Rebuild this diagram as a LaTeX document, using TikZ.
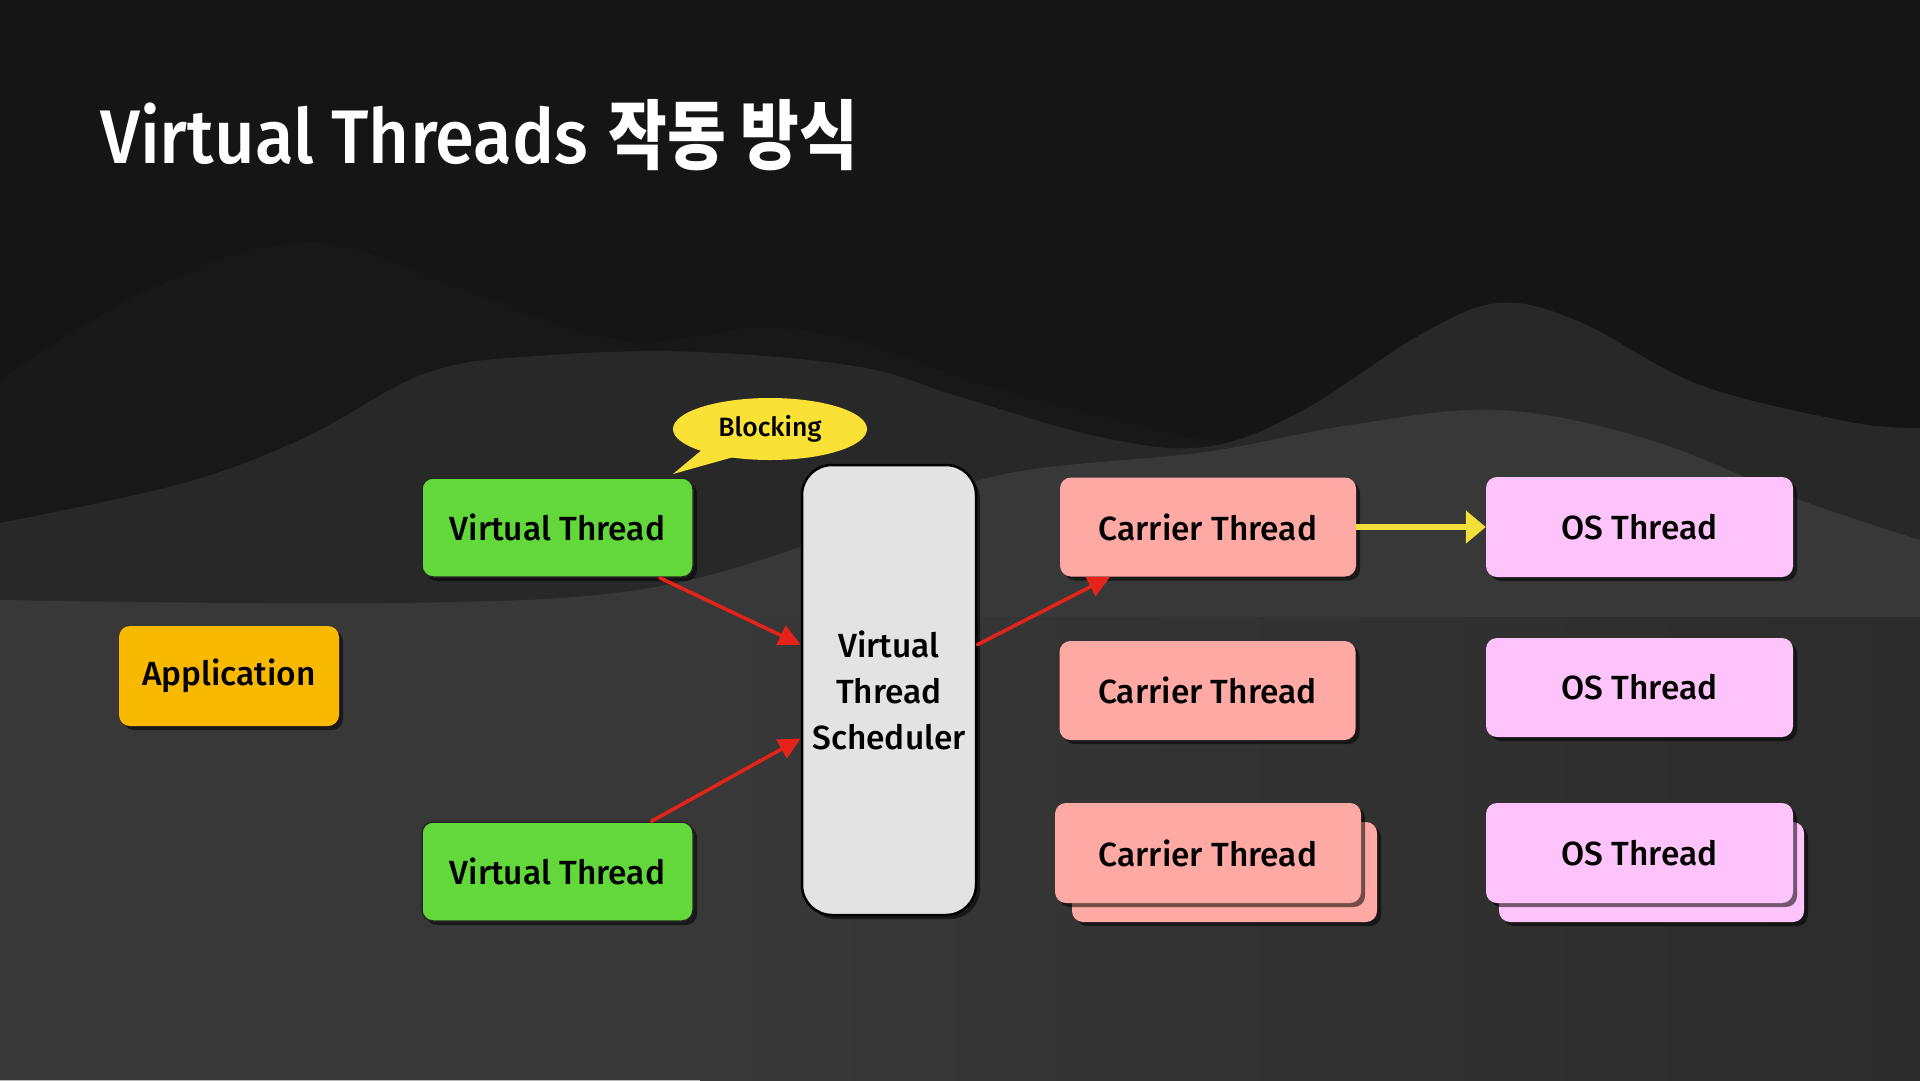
\documentclass[tikz,border=0pt]{standalone}
\usepackage{fontspec}
\setmainfont{Fira Sans}[UprightFont=* Medium]
\newfontfamily\titlefont{Fira Sans}[UprightFont=* Medium, FakeStretch=0.93]
\newfontfamily\krfont{Noto Sans CJK KR}[FakeStretch=0.84]
\usetikzlibrary{arrows.meta,shadows,calc,shapes.geometric}
\definecolor{bgA}{HTML}{151515}
\definecolor{bgB}{HTML}{181818}
\definecolor{bgC}{HTML}{282828}
\definecolor{bgD}{HTML}{383838}
\definecolor{bgE}{HTML}{2C2C2C}
\definecolor{vtgreen}{HTML}{62D83A}
\definecolor{appyel}{HTML}{F9B900}
\definecolor{schgray}{HTML}{E3E3E3}
\definecolor{carrier}{HTML}{FFA9A5}
\definecolor{osth}{HTML}{FFC3FB}
\definecolor{blocky}{HTML}{F9E135}
\definecolor{redarr}{HTML}{E5231B}
\definecolor{yelarr}{HTML}{F3DF3A}
\tikzset{
  card/.style={rounded corners=11pt, inner sep=0pt, text=black,
    font=\fontsize{33.5}{40}\selectfont,
    drop shadow={shadow xshift=4pt, shadow yshift=-4pt, opacity=0.55, fill=black}},
  vtbox/.style={card, fill=vtgreen, draw=black!85, line width=1.5pt},
  appbox/.style={card, fill=appyel},
  schbox/.style={card, fill=schgray, draw=black, line width=2.5pt, rounded corners=30pt,
    align=center, font=\fontsize{33.5}{46}\selectfont},
  ctbox/.style={card, fill=carrier},
  osbox/.style={card, fill=osth},
  redarrow/.style={draw=redarr, line width=3.5pt, line cap=round,
    -{Triangle[length=22pt,width=21pt]}},
  yelarrow/.style={draw=yelarr, line width=6pt,
    -{Triangle[length=20pt,width=32pt]}},
}
\begin{document}
\begin{tikzpicture}[x=1pt,y=-1pt]
\useasboundingbox (0,0) rectangle (1920,1080);
% background
\fill[bgA] (0,0) rectangle (1920,1080);
\fill[bgB] plot[smooth, tension=0.7] coordinates {(0,380) (150,290) (306,243) (450,285) (620,340) (800,330) (1000,390) (1200,440)} -- (1920,460) -- (1920,1080) -- (0,1080) -- cycle;
\fill[bgC] plot[smooth, tension=0.6] coordinates {(0,523) (184,483) (306,437) (429,372) (551,355) (700,352) (860,367) (960,397) (1100,437) (1205,447) (1300,412) (1420,335) (1499,303) (1580,322) (1700,385) (1850,422) (1920,428)} -- (1920,1080) -- (0,1080) -- cycle;
\fill[bgD] plot[smooth, tension=0.6] coordinates {(0,600) (400,603) (650,588) (850,530) (1000,475) (1205,452) (1350,425) (1499,410) (1650,440) (1800,500) (1920,540)} -- (1920,1080) -- (0,1080) -- cycle;
\shade[left color=bgD, right color=bgE] (700,617) -- (1920,617) -- (1920,1080) -- (700,1080) -- cycle;
% title
\node[anchor=base west, text=white, inner sep=0pt, font=\fontsize{76}{90}\selectfont] (title) at (100,163) {\titlefont Virtual Threads\hspace{20pt}{\krfont\bfseries 작동 방식}};
% nodes
\node[appbox, minimum width=220pt, minimum height=100pt] (app) at (229,676) {Application};
\node[vtbox, minimum width=271pt, minimum height=99pt] (vt1) at (557.5,527.5) {Virtual Thread};
\node[vtbox, minimum width=271pt, minimum height=99pt] (vt2) at (557.5,871.5) {Virtual Thread};
\node[schbox, minimum width=174pt, minimum height=450pt] (sched) at (889,690) {Virtual\\Thread\\Scheduler};
\node[ctbox, minimum width=296pt, minimum height=99pt] (ct1) at (1208,527) {Carrier Thread};
\node[ctbox, minimum width=296pt, minimum height=99pt] (ct2) at (1207.5,690.5) {Carrier Thread};
\node[ctbox, minimum width=305pt, minimum height=100pt] (ct3b) at (1224.5,872) {};
\node[ctbox, minimum width=306pt, minimum height=100pt] (ct3) at (1208,853) {Carrier Thread};
\node[osbox, minimum width=307pt, minimum height=100pt] (os1) at (1639.5,527) {OS Thread};
\node[osbox, minimum width=307pt, minimum height=99pt] (os2) at (1639.5,687.5) {OS Thread};
\node[osbox, minimum width=305pt, minimum height=100pt] (os3b) at (1651.5,872) {};
\node[osbox, minimum width=307pt, minimum height=100pt] (os3) at (1639.5,853) {OS Thread};
% blocking bubble
\fill[blocky] (703,449) -- (673,474) -- (737,456) -- cycle;
\node[ellipse, fill=blocky, minimum width=194pt, minimum height=62pt, inner sep=0pt, text=black, font=\fontsize{26.5}{30}\selectfont] (blk) at (770,429) {Blocking};
% connectors
\draw[redarrow] ($(vt1.south west)!0.875!(vt1.south east)$) -- ($(sched.north west)!0.4!(sched.south west)$);
\draw[redarrow] ($(vt2.north west)!0.845!(vt2.north east)$) -- ($(sched.north west)!0.607!(sched.south west)$);
\draw[redarrow] ($(sched.north east)!0.4!(sched.south east)$) -- ($(ct1.south west)!0.17!(ct1.south east)$);
\draw[yelarrow] (ct1.east) -- (os1.west);
\end{tikzpicture}
\end{document}
